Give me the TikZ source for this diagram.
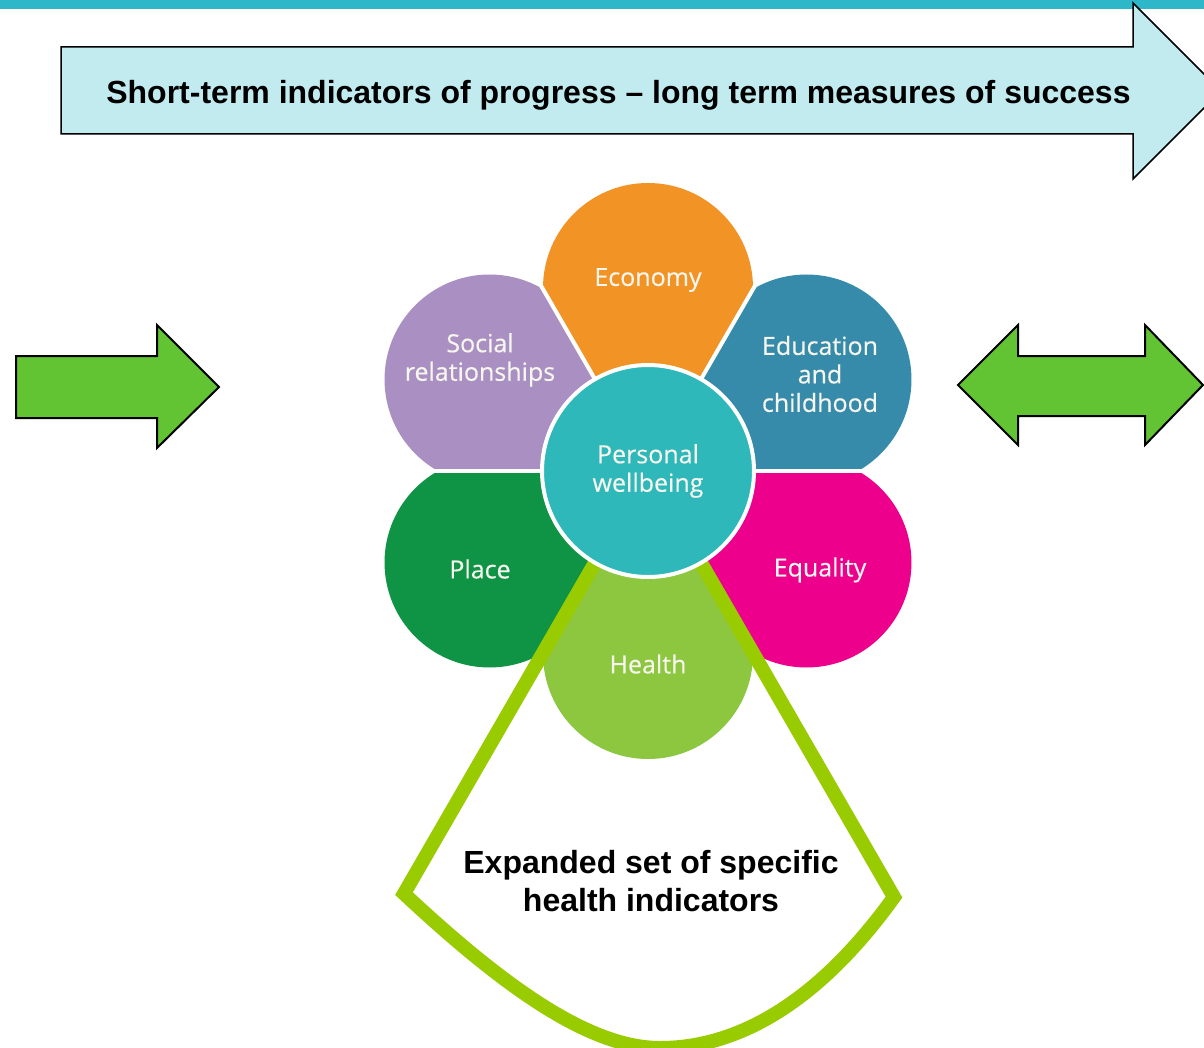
\documentclass[tikz,border=0pt]{standalone}
\usepackage{fontspec}
\setmainfont{Liberation Sans}
\newfontfamily\petalfont[FakeBold=0.4]{Open Sans}
\usetikzlibrary{calc}
\definecolor{topbar}{HTML}{2EB6C9}
\definecolor{bannerfill}{HTML}{C2EBF0}
\definecolor{arrowgreen}{HTML}{63C433}
\definecolor{economy}{HTML}{F29425}
\definecolor{social}{HTML}{AA90C2}
\definecolor{education}{HTML}{378BAA}
\definecolor{equality}{HTML}{EC008C}
\definecolor{place}{HTML}{0F9345}
\definecolor{health}{HTML}{8DC63F}
\definecolor{hubteal}{HTML}{2EB8B9}
\definecolor{fangreen}{HTML}{99CC00}
\definecolor{labelwhite}{HTML}{F6F6EE}
\begin{document}
\begin{tikzpicture}[x=1pt,y=-1pt,
  blockarrow/.style={fill=arrowgreen, draw=black, line width=2pt, line join=miter},
  bannerarrow/.style={fill=bannerfill, draw=black, line width=1.5pt, line join=miter},
  petallabel/.style={font=\petalfont\fontsize{25}{28.5}\selectfont, text=labelwhite, align=center, inner sep=0pt},
  boldtext/.style={font=\bfseries\fontsize{32}{38}\selectfont, text=black, align=center, inner sep=0pt},
  separator/.style={white, line width=4pt},
  fanline/.style={draw=fangreen, line width=14pt, line join=miter, miter limit=4}]
\clip (0,0) rectangle (1204,1048);
\fill[white] (0,0) rectangle (1204,1048);
\fill[topbar] (0,0) rectangle (1204,9);

% banner arrow across the top
\draw[bannerarrow] (61,47) -- (1133,47) -- (1133,3) -- (1221,91) -- (1133,179)
  -- (1133,134) -- (61,134) -- cycle;
\node[boldtext, anchor=base] (banner) at (618.5,103.5)
  {Short-term indicators of progress -- long term measures of success};

% side arrows
\draw[blockarrow] (16,356) -- (157,356) -- (157,325) -- (219,387) -- (157,448)
  -- (157,418) -- (16,418) -- cycle;
\draw[blockarrow] (958,385) -- (1018,325) -- (1018,356) -- (1145,356) -- (1145,325)
  -- (1203,385) -- (1145,445) -- (1145,416) -- (1018,416) -- (1018,445) -- cycle;

% flower: each petal is a circle cut to a 60 degree wedge
\coordinate (c) at (648,471);
\foreach \a/\col in {-90/economy, -30/education, 30/equality, 90/health, 150/place, -150/social}{
  \begin{scope}
    \clip (c) -- +(\a-30:400) -- +(\a+30:400) -- cycle;
    \fill[\col] (c) ++(\a:183) circle[radius=105];
  \end{scope}
}
\foreach \a in {0,60,...,300}
  \draw[separator] (c) -- +(\a:300);

% fan opening below the health petal
\coordinate (fanL) at ($(c)+(120:488)$);
\coordinate (fanR) at ($(c)+(60:492)$);
\coordinate (fanB) at (660,1048);
\draw[fanline] (c) -- (fanL) .. controls (505,988) and (590,1048) .. (fanB)
  .. controls (740,1048) and (820,1000) .. (fanR) -- cycle;

% centre of the flower
\node[circle, fill=hubteal, draw=white, line width=4pt, minimum size=212pt,
  inner sep=0pt, petallabel] (hub) at (c) {Personal\\wellbeing};

\node[petallabel] (economyl) at (648,280) {Economy};
\node[petallabel] (sociall) at (480,360) {Social\\relationships};
\node[petallabel] (educationl) at (820,374) {Education\\and\\childhood};
\node[petallabel] (placel) at (480,569) {Place};
\node[petallabel] (equalityl) at (820,570) {Equality};
\node[petallabel] (healthl) at (648,664) {Health};

\node[boldtext] (expanded) at (651,881) {Expanded set of specific\\health indicators};
\end{tikzpicture}
\end{document}
